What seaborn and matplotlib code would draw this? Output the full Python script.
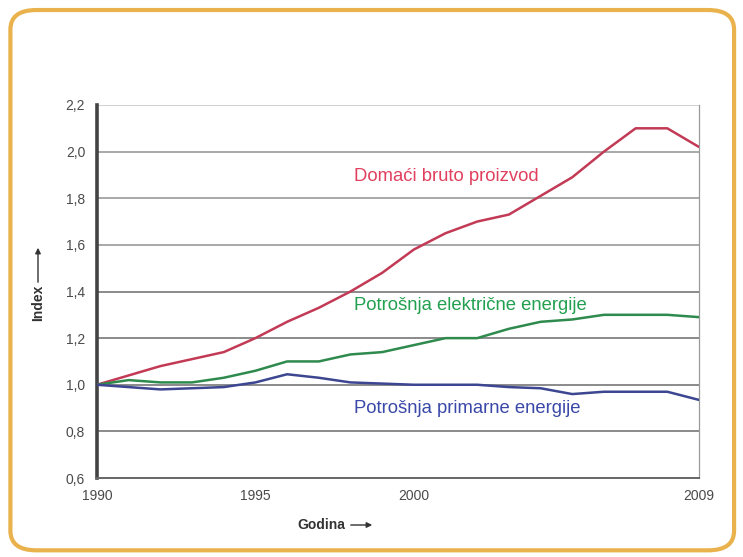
import numpy as np
import pandas as pd
import matplotlib
matplotlib.use("Agg")
import matplotlib.pyplot as plt
from matplotlib.patches import FancyBboxPatch, FancyArrowPatch
import seaborn as sns

years = list(range(1990, 2010))
gdp = [1.00, 1.04, 1.08, 1.11, 1.14, 1.20, 1.27, 1.33, 1.40, 1.48,
       1.58, 1.65, 1.70, 1.73, 1.81, 1.89, 2.00, 2.10, 2.10, 2.02]
electricity = [1.00, 1.02, 1.01, 1.01, 1.03, 1.06, 1.10, 1.10, 1.13, 1.14,
               1.17, 1.20, 1.20, 1.24, 1.27, 1.28, 1.30, 1.30, 1.30, 1.29]
primary = [1.00, 0.99, 0.98, 0.985, 0.99, 1.01, 1.045, 1.03, 1.01, 1.005,
           1.00, 1.00, 1.00, 0.99, 0.985, 0.96, 0.97, 0.97, 0.97, 0.935]

series_names = ["Domaći bruto proizvod", "Potrošnja električne energije",
                "Potrošnja primarne energije"]
y_ticks = [0.6, 0.8, 1.0, 1.2, 1.4, 1.6, 1.8, 2.0, 2.2]
y_tick_labels = ["0,6", "0,8", "1,0", "1,2", "1,4", "1,6", "1,8", "2,0", "2,2"]
x_major = [1990, 1995, 2000, 2009]

df = pd.DataFrame({
    "Godina": years * 3,
    "Index": gdp + electricity + primary,
    "Serija": [series_names[0]] * len(years) + [series_names[1]] * len(years)
              + [series_names[2]] * len(years),
})

line_colors = {series_names[0]: "#c23a55",
               series_names[1]: "#2f8a4e",
               series_names[2]: "#3d4690"}
text_colors = {series_names[0]: "#e0405e",
               series_names[1]: "#22a050",
               series_names[2]: "#3a48a8"}

sns.set_theme(style="white")
plt.rcParams["font.family"] = ["Liberation Sans", "DejaVu Sans"]

fig = plt.figure(figsize=(7.43, 5.57), dpi=100)
fig.patch.set_facecolor("white")

# rounded golden frame around the whole chart
frame = FancyBboxPatch((0.014, 0.012), 0.974, 0.97,
                       boxstyle="round,pad=0,rounding_size=0.035",
                       transform=fig.transFigure, facecolor="none",
                       edgecolor="#e9b24c", linewidth=3.0, zorder=0)
fig.patches.append(frame)

W, H = 743, 557
left, right, top, bottom = 97, 699, 105, 478
ax = fig.add_axes([left / W, 1 - bottom / H, (right - left) / W, (bottom - top) / H])
ax.set_facecolor("none")

# horizontal grid: upper lines drawn lighter than the lower ones
grid_colors = ["#8a8a8a", "#8a8a8a", "#8a8a8a", "#8a8a8a", "#a8a8a8", "#a8a8a8", "#a8a8a8"]
for yv, gc in zip(y_ticks[1:-1], grid_colors):
    ax.axhline(yv, color=gc, lw=1.4, zorder=1)
ax.axhline(2.2, color="#c8c8c8", lw=1.2, zorder=1)

sns.lineplot(data=df, x="Godina", y="Index", hue="Serija", palette=line_colors,
             linewidth=1.8, legend=False, ax=ax, zorder=3)

ax.set_xlim(1990, 2009)
ax.set_ylim(0.6, 2.2)
ax.set_xticks(x_major)
ax.set_xticklabels([str(v) for v in x_major])
ax.set_xticks(years, minor=True)
ax.set_yticks(y_ticks)
ax.set_yticklabels(y_tick_labels)
ax.tick_params(axis="both", which="both", direction="inout", colors="#555555",
               labelcolor="#4a4a4a", labelsize=10)
ax.tick_params(axis="x", which="major", length=6, width=1.0, pad=5)
ax.tick_params(axis="x", which="minor", length=5, width=0.9)
ax.tick_params(axis="y", which="major", length=5, width=1.0, pad=6)
ax.set_xlabel("")
ax.set_ylabel("")

ax.spines["top"].set_visible(False)
ax.spines["left"].set_color("#444444")
ax.spines["left"].set_linewidth(2.6)
ax.spines["bottom"].set_color("#666666")
ax.spines["bottom"].set_linewidth(1.4)
ax.spines["right"].set_color("#9a9a9a")
ax.spines["right"].set_linewidth(0.9)

ax.text(1998.1, 1.893, series_names[0], color=text_colors[series_names[0]],
        fontsize=13.3, ha="left", va="center")
ax.text(1998.1, 1.338, series_names[1], color=text_colors[series_names[1]],
        fontsize=13.3, ha="left", va="center")
ax.text(1998.1, 0.897, series_names[2], color=text_colors[series_names[2]],
        fontsize=13.3, ha="left", va="center")

# axis titles with arrows
fig.text(38 / W, 1 - 303 / H, "Index", rotation=90, ha="center", va="center",
         fontsize=10, fontweight="bold", color="#333333")
fig.patches.append(FancyArrowPatch(
    (38 / W, 1 - 285 / H), (38 / W, 1 - 245 / H), transform=fig.transFigure,
    arrowstyle="-|>", mutation_scale=8, color="#333333", lw=1.0))
fig.text(321 / W, 1 - 525 / H, "Godina", ha="center", va="center",
         fontsize=10, fontweight="bold", color="#333333")
fig.patches.append(FancyArrowPatch(
    (348 / W, 1 - 525 / H), (375 / W, 1 - 525 / H), transform=fig.transFigure,
    arrowstyle="-|>", mutation_scale=8, color="#333333", lw=1.0))

fig.savefig("out.png", dpi=100, facecolor="white")
